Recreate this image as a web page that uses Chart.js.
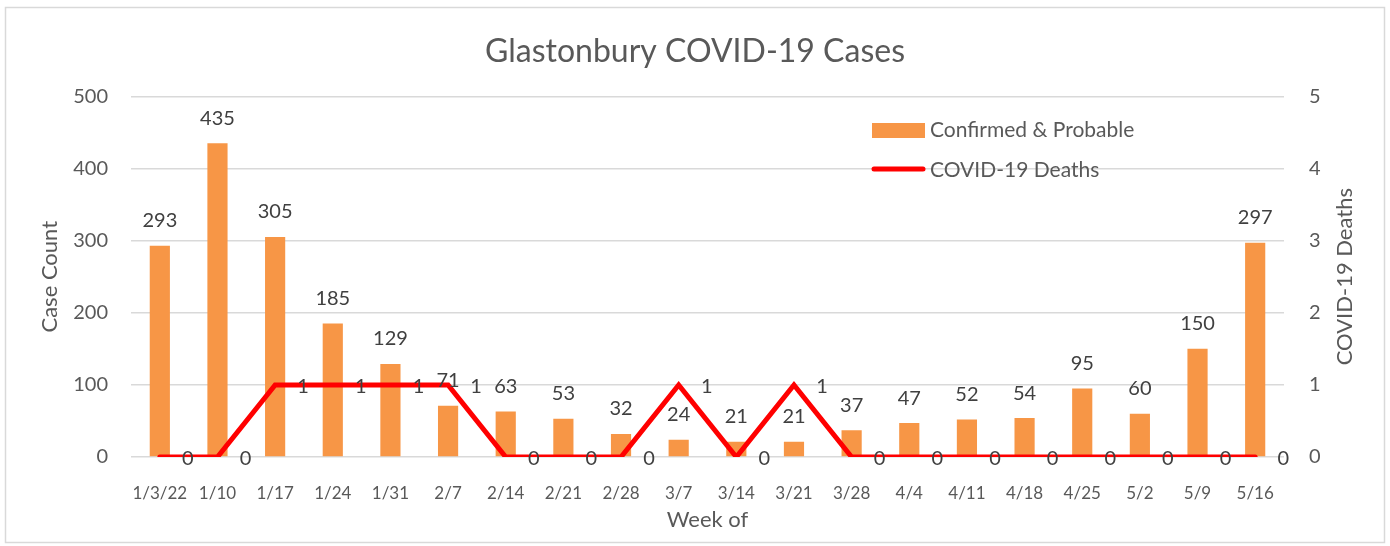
<html lang="en">
  <head>
    <meta charset="utf-8" />
    <title>Glastonbury COVID-19 Cases</title>
    <style>
      * { margin: 0; padding: 0; box-sizing: border-box; }
      body { background: #ffffff; width: 1390px; height: 546px; overflow: hidden; }
      .wrapper { position: relative; width: 1390px; height: 546px; }
      #chart { display: block; }
    </style>
  </head>
  <body>
    <div class="wrapper">
      <canvas id="chart" width="1390" height="546"></canvas>
    </div>
    <script src="https://cdn.jsdelivr.net/npm/chart.js@4.4.1/dist/chart.umd.min.js"></script>
    <script>
      // data
      const weeks = ["1/3/22", "1/10", "1/17", "1/24", "1/31", "2/7", "2/14", "2/21", "2/28", "3/7",
                     "3/14", "3/21", "3/28", "4/4", "4/11", "4/18", "4/25", "5/2", "5/9", "5/16"];
      const cases = [293, 435, 305, 185, 129, 71, 63, 53, 32, 24, 21, 21, 37, 47, 52, 54, 95, 60, 150, 297];
      const deaths = [0, 0, 1, 1, 1, 1, 0, 0, 0, 1, 0, 1, 0, 0, 0, 0, 0, 0, 0, 0];
      const caseTicks = [0, 100, 200, 300, 400, 500];
      const deathTicks = [0, 1, 2, 3, 4, 5];

      const textColor = "#595959";
      const labelColor = "#404040";
      const gridColor = "#d9d9d9";

      Chart.defaults.font.family = "Lato, 'Open Sans', sans-serif";
      Chart.defaults.color = textColor;

      // frame, right axis title, legend and value labels
      const extras = {
        id: "extras",
        beforeDraw(chart) {
          const ctx = chart.ctx;
          ctx.save();
          ctx.fillStyle = "#ffffff";
          ctx.fillRect(0, 0, chart.width, chart.height);
          ctx.strokeStyle = gridColor;
          ctx.lineWidth = 1.5;
          ctx.strokeRect(5.5, 7.5, 1379, 535);
          ctx.restore();
        },
        afterDatasetsDraw(chart) {
          const ctx = chart.ctx;
          ctx.save();
          ctx.font = "20px Lato, 'Open Sans', sans-serif";
          ctx.fillStyle = labelColor;
          ctx.textBaseline = "middle";

          // bar labels above bars
          ctx.textAlign = "center";
          chart.getDatasetMeta(0).data.forEach((el, i) => {
            ctx.fillText(String(cases[i]), el.x, el.y - 25);
          });
          // line labels right of points
          chart.getDatasetMeta(1).data.forEach((el, i) => {
            ctx.fillText(String(deaths[i]), el.x + 28, el.y + 2);
          });

          // right axis title, reading bottom to top
          const area = chart.chartArea;
          ctx.save();
          ctx.translate(1345, (area.top + area.bottom) / 2);
          ctx.rotate(-Math.PI / 2);
          ctx.font = "22px Lato, 'Open Sans', sans-serif";
          ctx.fillStyle = textColor;
          ctx.fillText("COVID-19 Deaths", 0, 0);
          ctx.restore();

          // legend
          const ds = chart.data.datasets;
          ctx.textAlign = "left";
          ctx.font = "21px Lato, 'Open Sans', sans-serif";
          ctx.fillStyle = ds[0].backgroundColor;
          ctx.fillRect(872, 123, 53, 15);
          ctx.fillStyle = textColor;
          ctx.fillText(ds[0].label, 930, 130);
          ctx.strokeStyle = ds[1].borderColor;
          ctx.lineWidth = 5;
          ctx.lineCap = "round";
          ctx.beginPath();
          ctx.moveTo(874, 169);
          ctx.lineTo(923, 169);
          ctx.stroke();
          ctx.fillText(ds[1].label, 930, 170);
          ctx.restore();
        }
      };

      new Chart(document.getElementById("chart"), {
        type: "bar",
        data: {
          labels: weeks,
          datasets: [
            {
              type: "bar",
              label: "Confirmed & Probable",
              data: cases,
              backgroundColor: "#f79646",
              barPercentage: 0.35,
              categoryPercentage: 1,
              yAxisID: "y",
              order: 2
            },
            {
              type: "line",
              label: "COVID-19 Deaths",
              data: deaths,
              borderColor: "#ff0000",
              backgroundColor: "#ff0000",
              borderWidth: 5,
              borderCapStyle: "round",
              borderJoinStyle: "miter",
              pointRadius: 0,
              tension: 0,
              yAxisID: "y1",
              order: 1
            }
          ]
        },
        options: {
          responsive: false,
          animation: false,
          devicePixelRatio: 1,
          layout: { padding: { top: 8, left: 5, right: 5, bottom: 10 } },
          plugins: {
            legend: { display: false },
            tooltip: { enabled: false },
            title: {
              display: true,
              text: "Glastonbury COVID-19 Cases",
              color: textColor,
              font: { size: 32, weight: "normal" },
              padding: { top: 24, bottom: 26 }
            }
          },
          scales: {
            x: {
              grid: { display: false },
              border: { display: false },
              ticks: { font: { size: 17 }, color: textColor, padding: 18, maxRotation: 0, autoSkip: false },
              title: { display: true, text: "Week of", color: textColor, font: { size: 22 }, padding: { top: 0, bottom: 3 } },
              afterFit(scale) { scale.height = 79; }
            },
            y: {
              position: "left",
              min: caseTicks[0],
              max: caseTicks[caseTicks.length - 1],
              afterBuildTicks(scale) { scale.ticks = caseTicks.map(v => ({ value: v })); },
              grid: { color: gridColor, lineWidth: 1.5, drawTicks: false, tickLength: 0 },
              border: { display: false },
              ticks: { font: { size: 20 }, color: textColor, padding: 23 },
              title: { display: true, text: "Case Count", color: textColor, font: { size: 22 }, padding: { top: 32, bottom: 0 } },
              afterFit(scale) { scale.width = 126; }
            },
            y1: {
              position: "right",
              min: deathTicks[0],
              max: deathTicks[deathTicks.length - 1],
              afterBuildTicks(scale) { scale.ticks = deathTicks.map(v => ({ value: v })); },
              grid: { display: false, drawTicks: false, tickLength: 0 },
              border: { display: false },
              ticks: { font: { size: 20 }, color: textColor, padding: 25 },
              afterFit(scale) { scale.width = 101; }
            }
          }
        },
        plugins: [extras]
      });
    </script>
  </body>
</html>
